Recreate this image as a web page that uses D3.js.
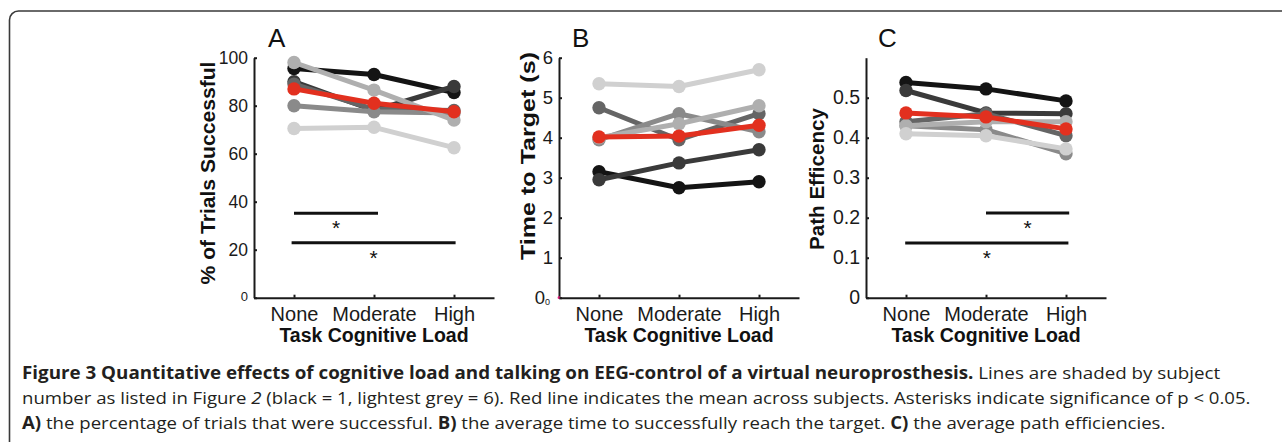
<!DOCTYPE html>
<html>
<head>
<meta charset="utf-8">
<script src="https://cdn.jsdelivr.net/npm/d3@7"></script>
<style>
  body { margin: 0; background: #fff; }
  svg { display: block; }
  .tick text { font-family: "Liberation Sans", Arial, sans-serif; fill: #1a1a1a; }
</style>
</head>
<body>
<div id="chart"></div>
<script>
// categories and subject shading (black = 1 ... lightest grey = 6)
const loads = ["None", "Moderate", "High"];
const shades = ["#141414", "#3a3a3a", "#656565", "#8a8a8a", "#afafaf", "#d0d0d0"];
const meanColor = "#e2301f";

// A) % of trials successful, one row per subject
const successBySubject = [
  [95.5, 93, 85.5],
  [90, 78, 88],
  [89, 78.5, 78],
  [80, 77.5, 77],
  [98, 86.5, 74],
  [70.5, 71, 62.5]
];
const successMean = [87, 81, 77.5];

// B) time to target (s)
const timeBySubject = [
  [3.15, 2.75, 2.9],
  [2.95, 3.37, 3.7],
  [4.75, 3.95, 4.6],
  [3.95, 4.6, 4.15],
  [4.0, 4.35, 4.8],
  [5.35, 5.28, 5.7]
];
const timeMean = [4.02, 4.04, 4.31];

// C) path efficiency
const efficiencyBySubject = [
  [0.538, 0.522, 0.492],
  [0.518, 0.462, 0.46],
  [0.44, 0.46, 0.405],
  [0.43, 0.42, 0.36],
  [0.43, 0.44, 0.44],
  [0.41, 0.405, 0.372]
];
const efficiencyMean = [0.462, 0.452, 0.422];

// significance bars: [from category, to category, level]
const sigA = [[1, 2.05, 35.2], [0.97, 3.02, 22.9]];
const sigC = [[2, 3.04, 0.212], [0.99, 3.03, 0.137]];

const ticksA = [0, 20, 40, 60, 80, 100];
const ticksB = [0, 1, 2, 3, 4, 5, 6];
const ticksC = [0, 0.1, 0.2, 0.3, 0.4, 0.5];

const captionLines = [
  [["Figure 3 Quantitative effects of cognitive load and talking on EEG-control of a virtual neuroprosthesis.", "b"],
   [" Lines are shaded by subject", ""]],
  [["number as listed in Figure ", ""], ["2", "i"],
   [" (black = 1, lightest grey = 6). Red line indicates the mean across subjects. Asterisks indicate significance of p < 0.05.", ""]],
  [["A)", "b"], [" the percentage of trials that were successful. ", ""], ["B)", "b"],
   [" the average time to successfully reach the target. ", ""], ["C)", "b"], [" the average path efficiencies.", ""]]
];

const W = 1282, H = 442;
const plotTop = 57.7, plotH = 240, plotW = 240;

const panels = [
  {name: "A", left: 254, yMax: 100, ticks: ticksA, fmt: d3.format("d"), tickSize: 17.5, data: successBySubject,
   mean: successMean, sig: sigA, yLabel: "% of Trials Successful", labelLen: 223, labelX: 215, labelY: 173, nameX: 268},
  {name: "B", left: 559, yMax: 6, ticks: ticksB, fmt: d3.format("d"), tickSize: 18.5, data: timeBySubject,
   mean: timeMean, sig: [], yLabel: "Time to Target (s)", labelLen: 208, labelX: 535, labelY: 156, nameX: 572},
  {name: "C", left: 866, yMax: 0.6, ticks: ticksC, fmt: d => d === 0 ? "0" : d3.format(".1f")(d), tickSize: 19.5,
   data: efficiencyBySubject, mean: efficiencyMean, sig: sigC, yLabel: "Path Efficency", labelLen: 142, labelX: 824,
   labelY: 179, nameX: 878}
];

const svg = d3.select("#chart").append("svg")
  .attr("width", W)
  .attr("height", H);

// frame round the figure
svg.append("rect")
  .attr("x", 9.5).attr("y", 11)
  .attr("width", W + 20).attr("height", H + 20)
  .attr("rx", 9)
  .attr("fill", "none")
  .attr("stroke", "#3a3a3a")
  .attr("stroke-width", 1.6);

panels.forEach(p => {
  const x = d3.scaleLinear().domain([0.5, 3.5]).range([p.left, p.left + plotW]);
  const y = d3.scaleLinear().domain([0, p.yMax]).range([plotTop + plotH, plotTop]);
  const g = svg.append("g");

  // y axis
  const ya = g.append("g")
    .attr("transform", `translate(${p.left},0)`)
    .call(d3.axisLeft(y).tickValues(p.ticks).tickFormat(p.fmt).tickSizeInner(-3).tickSizeOuter(0).tickPadding(6));
  ya.selectAll("text").attr("font-size", p.tickSize);
  if (p.name === "A") ya.selectAll("text").filter(d => d === 0).attr("font-size", 13).attr("dy", "0.2em");
  if (p.name === "B") {
    ya.selectAll("text").filter(d => d === 0).attr("dx", -3).append("tspan").attr("font-size", 9).attr("dy", "0.15em").text("0");
    g.append("circle").attr("cx", p.left).attr("cy", plotTop + plotH).attr("r", 1.4).attr("fill", "#e0187a");
  }

  // x axis
  const xa = g.append("g")
    .attr("transform", `translate(0,${plotTop + plotH})`)
    .call(d3.axisBottom(x).tickValues([1, 2, 3]).tickFormat((d, i) => loads[i]).tickSizeInner(-3).tickSizeOuter(0).tickPadding(9));
  xa.selectAll("text").attr("font-size", 20);

  g.selectAll(".domain, .tick line").attr("stroke", "#1a1a1a").attr("stroke-width", 2);

  g.append("text")
    .attr("x", p.left + plotW / 2)
    .attr("y", 342)
    .attr("text-anchor", "middle")
    .attr("font-family", "Liberation Sans, Arial, sans-serif")
    .attr("font-weight", "bold")
    .attr("font-size", 19.5)
    .attr("fill", "#111")
    .text("Task Cognitive Load");

  g.append("text")
    .attr("transform", `translate(${p.labelX},${p.labelY}) rotate(-90)`)
    .attr("text-anchor", "middle")
    .attr("font-family", "Liberation Sans, Arial, sans-serif")
    .attr("font-weight", "bold")
    .attr("font-size", 21)
    .attr("textLength", p.labelLen)
    .attr("lengthAdjust", "spacingAndGlyphs")
    .attr("fill", "#111")
    .text(p.yLabel);

  g.append("text")
    .attr("x", p.nameX)
    .attr("y", 47)
    .attr("font-family", "Liberation Sans, Arial, sans-serif")
    .attr("font-size", 26)
    .attr("fill", "#111")
    .text(p.name);

  const line = d3.line().x((d, i) => x(i + 1)).y(d => y(d));
  const series = p.data.map((vals, k) => ({vals, color: shades[k]}));
  series.push({vals: p.mean, color: meanColor});

  series.forEach(s => {
    g.append("path")
      .attr("d", line(s.vals))
      .attr("fill", "none")
      .attr("stroke", s.color)
      .attr("stroke-width", 5)
      .attr("stroke-linejoin", "round");
    g.selectAll(null)
      .data(s.vals)
      .join("circle")
      .attr("cx", (d, i) => x(i + 1))
      .attr("cy", d => y(d))
      .attr("r", 6.7)
      .attr("fill", s.color);
  });

  // significance bars with asterisks
  p.sig.forEach(([a, b, lvl]) => {
    g.append("line")
      .attr("x1", x(a)).attr("x2", x(b))
      .attr("y1", y(lvl)).attr("y2", y(lvl))
      .attr("stroke", "#111")
      .attr("stroke-width", 3);
    g.append("text")
      .attr("x", (x(a) + x(b)) / 2)
      .attr("y", y(lvl) + 22)
      .attr("text-anchor", "middle")
      .attr("font-family", "Liberation Sans, Arial, sans-serif")
      .attr("font-size", 21)
      .attr("fill", "#111")
      .text("*");
  });
});

// caption, each line fitted to its measured width
const capBase = [379, 404, 429];
const capRight = [1221, 1252, 1166];
captionLines.forEach((parts, li) => {
  const t = svg.append("text")
    .attr("font-family", "Open Sans, Noto Sans, sans-serif")
    .attr("font-size", 17)
    .attr("fill", "#231f20");
  parts.forEach(([txt, style]) => {
    t.append("tspan")
      .attr("font-weight", style === "b" ? "bold" : null)
      .attr("font-style", style === "i" ? "italic" : null)
      .text(txt);
  });
  const w = t.node().getComputedTextLength();
  const sx = (capRight[li] - 22) / w;
  t.attr("transform", `translate(22,${capBase[li]}) scale(${sx},1)`);
});
</script>
</body>
</html>
